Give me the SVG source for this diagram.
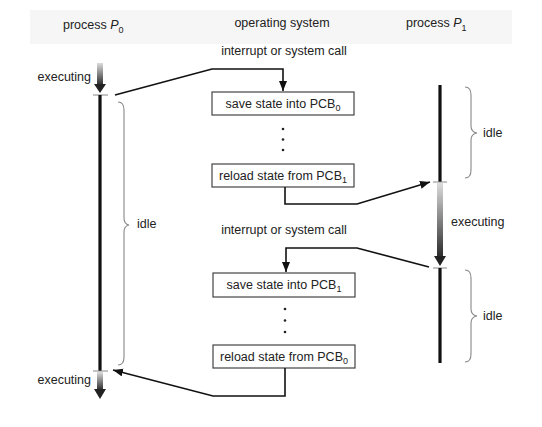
<svg xmlns="http://www.w3.org/2000/svg" width="542" height="427" viewBox="0 0 542 427">
<defs>
<style>
text{font-family:"Liberation Sans",Arial,sans-serif;font-size:12.5px;fill:#222}
.box{fill:#fff;stroke:#444;stroke-width:1.2}
.conn{fill:none;stroke:#111;stroke-width:1.6}
.life{stroke:#111;stroke-width:3.2}
.tick{stroke:#888;stroke-width:1}
.brace{fill:none;stroke:#888;stroke-width:1.1}
.dot{fill:#222}
.sub{font-size:9px}
</style>
<linearGradient id="exec" x1="0" y1="0" x2="0" y2="1">
<stop offset="0" stop-color="#dcdcdc"/>
<stop offset="1" stop-color="#2a2a2a"/>
</linearGradient>
<marker id="ah" markerUnits="userSpaceOnUse" markerWidth="11" markerHeight="9" refX="10" refY="4" orient="auto">
<path d="M0,0 L10,4 L0,8 z" fill="#111"/>
</marker>
</defs>
<rect width="542" height="427" fill="#fff"/>
<rect x="30" y="10" width="482" height="34" fill="#f6f6f6"/>

<g id="title-p0"><text x="63" y="29">process <tspan font-style="italic">P</tspan><tspan class="sub" dy="4">0</tspan></text></g>
<g id="title-os"><text x="282" y="27" text-anchor="middle">operating system</text></g>
<g id="title-p1"><text x="406" y="27">process <tspan font-style="italic">P</tspan><tspan class="sub" dy="4">1</tspan></text></g>

<g id="label-interrupt1"><text x="284" y="55" text-anchor="middle">interrupt or system call</text></g>
<g id="label-interrupt2"><text x="284" y="234" text-anchor="middle">interrupt or system call</text></g>

<g id="p0-timeline">
<rect x="97" y="63" width="6" height="22" fill="url(#exec)"/>
<path d="M94,84 L106,84 L100,93 z" fill="#222"/>
<line class="tick" x1="93" y1="95" x2="108" y2="95"/>
<line class="life" x1="100" y1="95" x2="100" y2="371"/>
<line class="tick" x1="93" y1="371" x2="108" y2="371"/>
<rect x="97" y="372" width="6" height="18" fill="url(#exec)"/>
<path d="M94,389 L106,389 L100,399 z" fill="#222"/>
<text x="91" y="81" text-anchor="end">executing</text>
<text x="91" y="384" text-anchor="end">executing</text>
<path class="brace" d="M118,102 Q124,102 124,110 L124,218 Q124,224 129,225 Q124,226 124,232 L124,357 Q124,365 118,365"/>
<text x="137" y="228">idle</text>
</g>

<g id="p1-timeline">
<line class="life" x1="440" y1="85" x2="440" y2="182"/>
<line class="tick" x1="433" y1="182" x2="447" y2="182"/>
<rect x="437" y="183" width="6" height="74" fill="url(#exec)"/>
<path d="M434,256 L446,256 L440,266 z" fill="#222"/>
<line class="tick" x1="433" y1="268" x2="447" y2="268"/>
<line class="life" x1="440" y1="268" x2="440" y2="363"/>
<text x="451" y="226">executing</text>
<path class="brace" d="M465,87 Q471,87 471,95 L471,126 Q471,132 477,133 Q471,134 471,140 L471,170 Q471,178 465,178"/>
<text x="483" y="137">idle</text>
<path class="brace" d="M465,270 Q471,270 471,278 L471,309 Q471,315 477,316 Q471,317 471,323 L471,354 Q471,362 465,362"/>
<text x="483" y="320">idle</text>
</g>

<g id="save-pcb0">
<rect class="box" x="212" y="92" width="142" height="23"/>
<text x="283" y="108" text-anchor="middle">save state into PCB<tspan class="sub" dy="3">0</tspan></text>
</g>
<g id="dots1">
<circle class="dot" cx="283" cy="129" r="1.3"/>
<circle class="dot" cx="283" cy="139.5" r="1.3"/>
<circle class="dot" cx="283" cy="150" r="1.3"/>
</g>
<g id="reload-pcb1">
<rect class="box" x="212" y="164" width="142" height="23"/>
<text x="283" y="180" text-anchor="middle">reload state from PCB<tspan class="sub" dy="3">1</tspan></text>
</g>
<g id="save-pcb1">
<rect class="box" x="213" y="273" width="142" height="24"/>
<text x="284" y="289" text-anchor="middle">save state into PCB<tspan class="sub" dy="3">1</tspan></text>
</g>
<g id="dots2">
<circle class="dot" cx="285" cy="309" r="1.3"/>
<circle class="dot" cx="285" cy="320.5" r="1.3"/>
<circle class="dot" cx="285" cy="332" r="1.3"/>
</g>
<g id="reload-pcb0">
<rect class="box" x="213" y="345" width="142" height="23"/>
<text x="284" y="361" text-anchor="middle">reload state from PCB<tspan class="sub" dy="3">0</tspan></text>
</g>

<g id="connectors">
<path class="conn" d="M115,95 L212,69 L283,69 L283,91" marker-end="url(#ah)"/>
<path class="conn" d="M285,187 L285,204 L357,204 L430,182" marker-end="url(#ah)"/>
<path class="conn" d="M429,267 L357,248 L286,248 L286,272" marker-end="url(#ah)"/>
<path class="conn" d="M285,368 L285,396 L213,396 L113,370" marker-end="url(#ah)"/>
</g>
</svg>
